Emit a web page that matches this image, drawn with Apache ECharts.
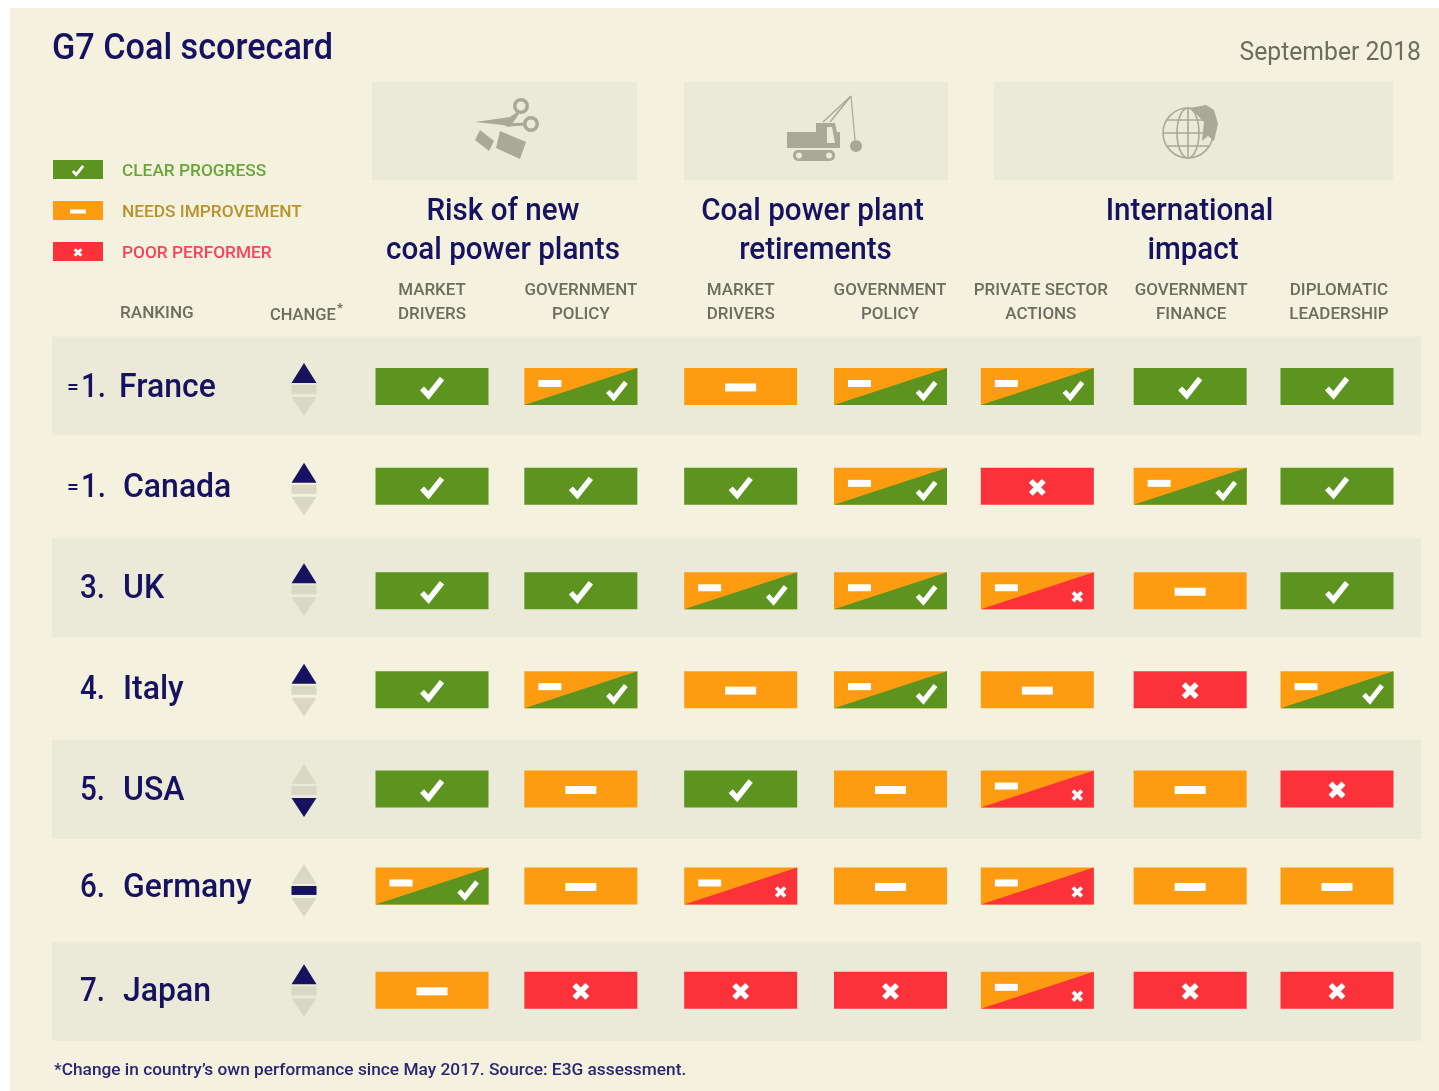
<!DOCTYPE html>
<html>
<head>
<meta charset="utf-8">
<title>G7 Coal scorecard</title>
<script src="https://cdn.jsdelivr.net/npm/echarts@6/dist/echarts.min.js"></script>
<style>
  html, body { margin: 0; padding: 0; background: #fff; }
  #chart { width: 1439px; height: 1091px; }
</style>
</head>
<body>
<div id="chart"></div>
<script>
// scorecard content
var countries = ['France', 'Canada', 'UK', 'Italy', 'USA', 'Germany', 'Japan'];
var ranks = ['=1.', '=1.', '3.', '4.', '5.', '6.', '7.'];
var changes = ['up', 'up', 'up', 'up', 'down', 'flat', 'up'];
var columns = ['MARKET\nDRIVERS', 'GOVERNMENT\nPOLICY', 'MARKET\nDRIVERS', 'GOVERNMENT\nPOLICY',
    'PRIVATE SECTOR\nACTIONS', 'GOVERNMENT\nFINANCE', 'DIPLOMATIC\nLEADERSHIP'];
var groups = ['Risk of new\ncoal power plants', 'Coal power plant\nretirements', 'International\nimpact'];
var legendLabels = ['CLEAR PROGRESS', 'NEEDS IMPROVEMENT', 'POOR PERFORMER'];

// good = clear progress, mid = needs improvement, poor = poor performer
// midGood / midPoor are the split cells
var france = ['good', 'midGood', 'mid', 'midGood', 'midGood', 'good', 'good'];
var canada = ['good', 'good', 'good', 'midGood', 'poor', 'midGood', 'good'];
var uk = ['good', 'good', 'midGood', 'midGood', 'midPoor', 'mid', 'good'];
var italy = ['good', 'midGood', 'mid', 'midGood', 'mid', 'poor', 'midGood'];
var usa = ['good', 'mid', 'good', 'mid', 'midPoor', 'mid', 'poor'];
var germany = ['midGood', 'mid', 'midPoor', 'mid', 'midPoor', 'mid', 'mid'];
var japan = ['mid', 'poor', 'poor', 'poor', 'midPoor', 'poor', 'poor'];
var scores = [france, canada, uk, italy, usa, germany, japan];

var GREEN = '#5c941f', ORANGE = '#fd9c10', RED = '#fb3239', NAVY = '#17125f';
var GREY = '#6c6c60', BAND = '#ebead9', ICON = '#a9a899', FADED = '#d9d8c4';
var FONT = 'Roboto, sans-serif';

// columns and rows in the source are not evenly spaced, small pixel corrections
var colNudge = [0, -2, 7, 6, 2, 4, 0];
var rowNudge = [0.5, -0.5, 3, 1, -0.5, -4.5, -1];
var headNudge = [0, -2, 7, 5.5, 5.5, 5, 2];
var textNudge = [0, -1, -1, -1, -1, -4.5, -2];
var arrowNudge = [0, -1, -1.5, -2, -2.5, -3.5, -4];

var kinds = ['good', 'mid', 'poor', 'midGood', 'midPoor'];

function txt(str, x, y, size, weight, fill, align, sx) {
    return {
        type: 'text', x: x, y: y, scaleX: sx || 1, silent: true,
        style: {
            text: str, x: 0, y: 0, fill: fill,
            font: weight + ' ' + size + 'px ' + FONT,
            align: align || 'left', verticalAlign: 'middle'
        }
    };
}

function check(cx, cy, k) {
    return {
        type: 'polyline',
        shape: { points: [[cx - 10 * k, cy + 1 * k], [cx - 3.5 * k, cy + 8 * k], [cx + 10 * k, cy - 9 * k]] },
        style: { stroke: '#fff', lineWidth: 5.5 * k, fill: null }
    };
}
function minus(cx, cy, w, h) {
    return { type: 'rect', shape: { x: cx - w / 2, y: cy - h / 2, width: w, height: h }, style: { fill: '#fff' } };
}
function cross(cx, cy, k) {
    var r = 6.5 * k;
    return {
        type: 'group',
        children: [
            { type: 'line', shape: { x1: cx - r, y1: cy - r, x2: cx + r, y2: cy + r }, style: { stroke: '#fff', lineWidth: 5.5 * k } },
            { type: 'line', shape: { x1: cx - r, y1: cy + r, x2: cx + r, y2: cy - r }, style: { stroke: '#fff', lineWidth: 5.5 * k } }
        ]
    };
}

function cellShape(kind, cx, cy, hw, hh) {
    var plain = { good: GREEN, mid: ORANGE, poor: RED };
    if (plain[kind]) {
        var out = [{ type: 'rect', shape: { x: cx - hw, y: cy - hh, width: hw * 2, height: hh * 2 }, style: { fill: plain[kind] } }];
        var k = hh / 18.5;
        if (kind === 'good') out.push(check(cx, cy + 1, k));
        if (kind === 'mid') out.push(minus(cx, cy + 1, 31 * k, 8 * k));
        if (kind === 'poor') out.push(cross(cx, cy + 1, k));
        return out;
    }
    var other = kind === 'midGood' ? GREEN : RED;
    var split = [
        { type: 'rect', shape: { x: cx - hw, y: cy - hh, width: hw * 2, height: hh * 2 }, style: { fill: ORANGE } },
        { type: 'polygon', shape: { points: [[cx - hw, cy + hh], [cx + hw, cy - hh], [cx + hw, cy + hh]] }, style: { fill: other } },
        minus(cx - 31, cy - 3, 23, 7)
    ];
    split.push(kind === 'midGood' ? check(cx + 36, cy + 4, 0.9) : cross(cx + 40, cy + 6, 0.68));
    return split;
}

function renderRow(params, api) {
    var i = api.value(0);
    var c = api.coord([0, i]);
    var cy = c[1];
    var tcy = cy + textNudge[i] + 3;
    var kids = [];
    if (i % 2 === 0) {
        kids.push({ type: 'rect', shape: { x: 52, y: cy - 49.5, width: 1369, height: 99 }, style: { fill: BAND } });
    }
    var rank = ranks[i];
    if (rank.charAt(0) === '=') {
        kids.push(txt('=', 67, tcy, 21, 500, NAVY, 'left', 1));
        kids.push(txt(rank.slice(1), 81, tcy, 34, 500, NAVY, 'left', 0.87));
    } else {
        kids.push(txt(rank, 80, tcy, 34, 500, NAVY, 'left', 0.87));
    }
    kids.push(txt(countries[i], i === 0 ? 119 : 123, tcy, 34, 500, NAVY, 'left', 0.94));

    var ay = cy + 3 + arrowNudge[i];
    var ch = changes[i];
    kids.push({ type: 'polygon', shape: { points: [[304, ay - 26], [316.5, ay - 6], [291.5, ay - 6]] }, style: { fill: ch === 'up' ? NAVY : FADED } });
    kids.push({ type: 'rect', shape: { x: 291.5, y: ay - 4, width: 25, height: 9 }, style: { fill: ch === 'flat' ? NAVY : FADED } });
    kids.push({ type: 'polygon', shape: { points: [[291.5, ay + 8], [316.5, ay + 8], [304, ay + 27]] }, style: { fill: ch === 'down' ? NAVY : FADED } });
    return { type: 'group', children: kids };
}

function renderCell(params, api) {
    var col = api.value(0), row = api.value(1);
    var p = api.coord([col, row]);
    return {
        type: 'group',
        children: cellShape(kinds[api.value(2)], p[0] + colNudge[col], p[1] + rowNudge[row], 56.5, 18.5)
    };
}

function renderHead(params, api) {
    var col = api.value(0);
    var x = api.coord([col, 0])[0] + headNudge[col];
    var lines = columns[col].split('\n');
    return {
        type: 'group',
        children: [
            txt(lines[0], x, 291, 16, 500, GREY, 'center', 1.06),
            txt(lines[1], x, 315, 16, 500, GREY, 'center', 1.06)
        ]
    };
}

var rowData = [], cellData = [], headData = [];
countries.forEach(function (name, r) {
    rowData.push([r]);
    scores[r].forEach(function (s, c) {
        cellData.push([c, r, kinds.indexOf(s)]);
    });
});
columns.forEach(function (name, c) { headData.push([c]); });

function panel(x, w) {
    return { type: 'rect', shape: { x: x, y: 82, width: w, height: 98 }, style: { fill: BAND } };
}

// icons above the three groups
var scissors = { type: 'group', children: [
    { type: 'ring', shape: { cx: 521, cy: 106, r: 8, r0: 4.5 }, style: { fill: ICON } },
    { type: 'ring', shape: { cx: 531, cy: 124, r: 8, r0: 4.5 }, style: { fill: ICON } },
    { type: 'polygon', shape: { points: [[475, 122], [510, 117], [517, 112], [519, 114], [510, 127], [503, 125]] }, style: { fill: ICON } },
    { type: 'line', shape: { x1: 506, y1: 125, x2: 525, y2: 124 }, style: { stroke: ICON, lineWidth: 3 } },
    { type: 'polygon', shape: { points: [[480, 130], [494, 141], [489, 151], [475, 140]] }, style: { fill: ICON } },
    { type: 'polygon', shape: { points: [[500, 131], [526, 142], [520, 159], [496, 148]] }, style: { fill: ICON } }
] };
var crane = { type: 'group', children: [
    { type: 'rect', shape: { x: 787, y: 132, width: 53, height: 16 }, style: { fill: ICON } },
    { type: 'polygon', shape: { points: [[816, 123], [835, 123], [840, 148], [816, 148]] }, style: { fill: ICON } },
    { type: 'polygon', shape: { points: [[827, 127], [832, 127], [835, 143], [827, 143]] }, style: { fill: BAND } },
    { type: 'rect', shape: { x: 793, y: 150, width: 42, height: 11, r: 5 }, style: { fill: ICON } },
    { type: 'circle', shape: { cx: 799, cy: 155.5, r: 3 }, style: { fill: BAND } },
    { type: 'circle', shape: { cx: 829, cy: 155.5, r: 3 }, style: { fill: BAND } },
    { type: 'line', shape: { x1: 823, y1: 122, x2: 851, y2: 96 }, style: { stroke: ICON, lineWidth: 1.5 } },
    { type: 'line', shape: { x1: 830, y1: 122, x2: 851, y2: 96 }, style: { stroke: ICON, lineWidth: 1.5 } },
    { type: 'line', shape: { x1: 851, y1: 96, x2: 855, y2: 140 }, style: { stroke: ICON, lineWidth: 1.2 } },
    { type: 'circle', shape: { cx: 856, cy: 146, r: 6 }, style: { fill: ICON } }
] };
var globeStroke = { stroke: ICON, lineWidth: 1.6, fill: null };
var globe = { type: 'group', children: [
    { type: 'circle', shape: { cx: 1188, cy: 133, r: 25 }, style: globeStroke },
    { type: 'ellipse', shape: { cx: 1188, cy: 133, rx: 11, ry: 25 }, style: globeStroke },
    { type: 'line', shape: { x1: 1188, y1: 108, x2: 1188, y2: 158 }, style: globeStroke },
    { type: 'line', shape: { x1: 1163, y1: 133, x2: 1213, y2: 133 }, style: globeStroke },
    { type: 'line', shape: { x1: 1167, y1: 120, x2: 1209, y2: 120 }, style: globeStroke },
    { type: 'line', shape: { x1: 1167, y1: 146, x2: 1209, y2: 146 }, style: globeStroke },
    { type: 'polygon', shape: { points: [[1190, 108], [1206, 105], [1214, 110], [1218, 124], [1214, 141], [1208, 136], [1202, 141], [1204, 122]] }, style: { fill: ICON } }
] };

var groupCentres = [503, 812.5, 1189.5];
var groupLineTwo = [503, 815.5, 1193];
var legendColours = ['#6ba53a', '#b8932d', '#f2475b'];
var legendKinds = ['good', 'mid', 'poor'];
var legendY = [170, 211, 252];

var extras = [
    { type: 'rect', z: -10, shape: { x: 10, y: 8, width: 1429, height: 1083 }, style: { fill: '#f4f1de' } },
    panel(372, 265), panel(684, 264), panel(994, 399),
    scissors, crane, globe,
    txt('G7 Coal scorecard', 52, 50, 36, 500, NAVY, 'left', 0.95),
    txt('September 2018', 1421, 53, 26, 400, GREY, 'right', 0.95),
    txt('RANKING', 120, 314, 16, 500, GREY, 'left', 1.07),
    txt('CHANGE', 270, 316, 16, 500, GREY, 'left', 1.03),
    txt('*', 337, 309, 13, 700, GREY),
    txt('*Change in country\u2019s own performance since May 2017. Source: E3G assessment.', 54, 1071, 17, 500, '#2b2672', 'left', 1.017)
];
groups.forEach(function (g, i) {
    var lines = g.split('\n');
    extras.push(txt(lines[0], groupCentres[i], 212, 32, 500, NAVY, 'center', 0.925));
    extras.push(txt(lines[1], groupLineTwo[i], 251, 32, 500, NAVY, 'center', 0.925));
});
legendLabels.forEach(function (l, i) {
    extras.push({ type: 'group', children: cellShape(legendKinds[i], 78, legendY[i] - 0.5, 25, 9.5) });
    extras.push(txt(l, 122, legendY[i] + 2, 16, 500, legendColours[i], 'left', 1.08));
});

var option = {
    animation: false,
    graphic: { elements: extras },
    grid: { left: 356.6, width: 1055.8, top: 335.5, height: 706.3 },
    xAxis: { type: 'category', data: columns, show: false },
    yAxis: { type: 'category', data: countries, inverse: true, show: false },
    series: [
        { type: 'custom', name: 'rows', renderItem: renderRow, data: rowData, encode: { y: 0 }, silent: true, z: 1 },
        { type: 'custom', name: 'scores', renderItem: renderCell, data: cellData, encode: { x: 0, y: 1 }, silent: true, z: 2 },
        { type: 'custom', name: 'columns', renderItem: renderHead, data: headData, encode: { x: 0 }, silent: true, z: 3 }
    ]
};

var chart = echarts.init(document.getElementById('chart'), null, { renderer: 'canvas' });
chart.setOption(option);
</script>
</body>
</html>
